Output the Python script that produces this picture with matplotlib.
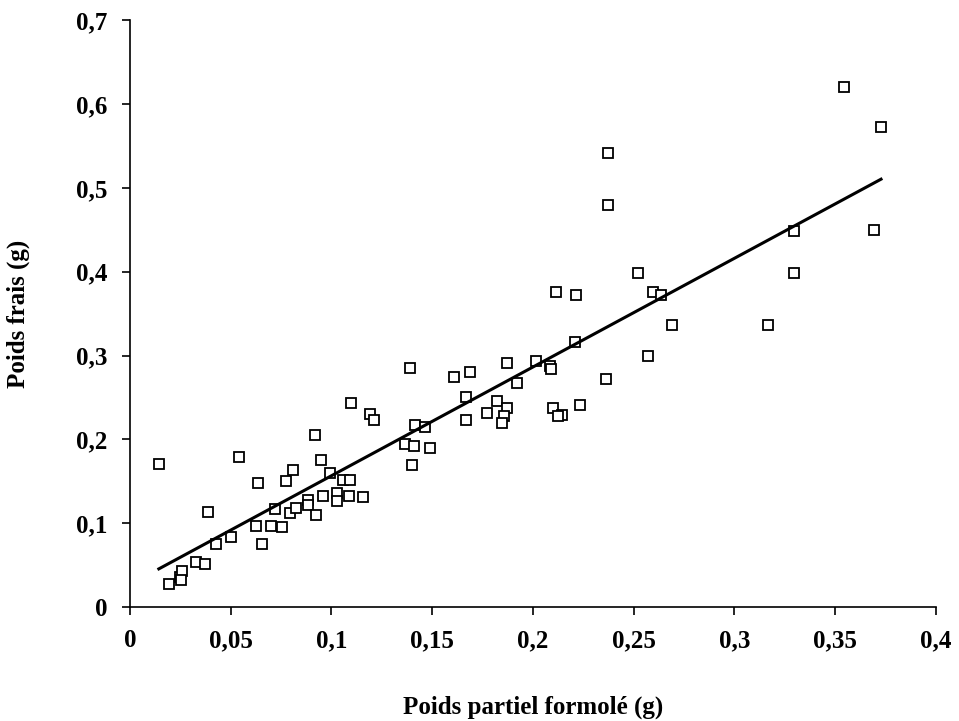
import matplotlib
matplotlib.use('Agg')
import matplotlib.pyplot as plt
import numpy as np
from matplotlib.ticker import FuncFormatter

# Poids partiel formolé (g)
poids_formole = [
    0.0143, 0.0194, 0.0246, 0.0260, 0.0255, 0.0330, 0.0370, 0.0387, 0.0429,
    0.0503, 0.0540, 0.0633, 0.0624, 0.0656, 0.0702, 0.0755, 0.0719, 0.0774,
    0.0794, 0.0810, 0.0823, 0.0885, 0.0885, 0.0921, 0.0920, 0.0946, 0.0956,
    0.0993, 0.1029, 0.1029, 0.1056, 0.1092, 0.1089, 0.1158, 0.1095, 0.1190,
    0.1210, 0.1366, 0.1410, 0.1400, 0.1415, 0.1390, 0.1490, 0.1465, 0.1610,
    0.1690, 0.1670, 0.1670, 0.1770, 0.1820, 0.1870, 0.1855, 0.1847, 0.1870,
    0.1920, 0.2017, 0.2084, 0.2090, 0.2099, 0.2145, 0.2124, 0.2236, 0.2117,
    0.2216, 0.2208, 0.2362, 0.2372, 0.2372, 0.2523, 0.2571, 0.2598, 0.2634,
    0.2689, 0.3168, 0.3298, 0.3298, 0.3543, 0.3693, 0.3729,
]
# Poids frais (g)
poids_frais = [
    0.171, 0.028, 0.036, 0.043, 0.032, 0.054, 0.051, 0.114, 0.075,
    0.083, 0.179, 0.148, 0.097, 0.075, 0.097, 0.095, 0.117, 0.150,
    0.112, 0.164, 0.118, 0.128, 0.122, 0.110, 0.205, 0.175, 0.133,
    0.160, 0.136, 0.127, 0.151, 0.152, 0.133, 0.131, 0.243, 0.230,
    0.223, 0.195, 0.192, 0.169, 0.217, 0.285, 0.190, 0.215, 0.274,
    0.280, 0.251, 0.223, 0.232, 0.246, 0.237, 0.228, 0.219, 0.291,
    0.267, 0.293, 0.288, 0.284, 0.237, 0.229, 0.228, 0.241, 0.376,
    0.372, 0.316, 0.272, 0.479, 0.541, 0.398, 0.299, 0.376, 0.372,
    0.337, 0.337, 0.449, 0.398, 0.620, 0.450, 0.573,
]

x = np.array(poids_formole)
y = np.array(poids_frais)
pente, origine = np.polyfit(x, y, 1)
x_fit = np.array([x.min(), x.max()])
y_fit = pente * x_fit + origine

plt.rcParams['font.family'] = ['Liberation Serif', 'DejaVu Serif']
plt.rcParams['font.weight'] = 'bold'

fig = plt.figure(figsize=(9.59, 7.21), dpi=100)
ax = fig.add_axes([0.1356, 0.158, 0.840, 0.814])

ax.plot(x, y, linestyle='none', marker='s', markersize=7.5,
        markerfacecolor='white', markeredgecolor='black', markeredgewidth=1.3)
ax.plot(x_fit, y_fit, color='black', linewidth=2.2)

ax.set_xlim(0, 0.4)
ax.set_ylim(0, 0.7)
ax.set_xticks(np.arange(0, 0.401, 0.05))
ax.set_yticks(np.arange(0, 0.701, 0.1))

virgule = FuncFormatter(lambda v, pos: ('%g' % round(v, 3)).replace('.', ','))
ax.xaxis.set_major_formatter(virgule)
ax.yaxis.set_major_formatter(virgule)

for s in ['top', 'right']:
    ax.spines[s].set_visible(False)
for s in ['left', 'bottom']:
    ax.spines[s].set_linewidth(1.2)

ax.tick_params(axis='both', direction='out', length=6, width=1.2,
               labelsize=18, colors='black')
ax.tick_params(axis='x', pad=10)
ax.tick_params(axis='y', pad=10)
for lab in ax.get_xticklabels() + ax.get_yticklabels():
    lab.set_fontweight('bold')

ax.set_xlabel('Poids partiel formolé (g)', fontsize=18, fontweight='bold', labelpad=31)
ax.set_ylabel('Poids frais (g)', fontsize=18, fontweight='bold', labelpad=33)

fig.savefig('out.png', dpi=100)
